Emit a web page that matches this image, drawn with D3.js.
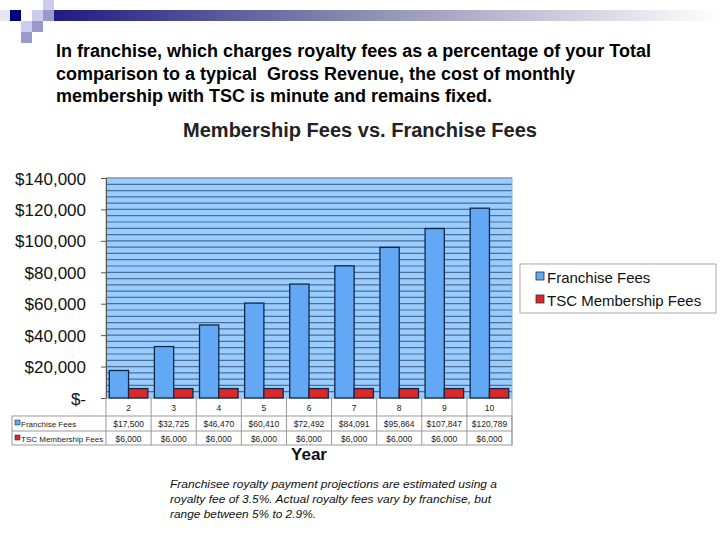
<!DOCTYPE html>
<html><head><meta charset="utf-8">
<script src="https://cdn.jsdelivr.net/npm/d3@7"></script>
<style>body{margin:0;background:#fff;}svg{display:block;font-family:"Liberation Sans",Arial,sans-serif;}</style>
</head><body>
<svg id="c" width="720" height="540"></svg>
<script>
const years = ["2","3","4","5","6","7","8","9","10"];
const franchiseFees = [17500,32725,46470,60410,72492,84091,95864,107847,120789];
const tscFees = [6000,6000,6000,6000,6000,6000,6000,6000,6000];
const franchiseLabels = ["$17,500","$32,725","$46,470","$60,410","$72,492","$84,091","$95,864","$107,847","$120,789"];
const tscLabels = ["$6,000","$6,000","$6,000","$6,000","$6,000","$6,000","$6,000","$6,000","$6,000"];
const yTicks = [0,20000,40000,60000,80000,100000,120000,140000];
const seriesNames = ["Franchise Fees","TSC Membership Fees"];

const svg = d3.select("#c");
const colors = ["#62a8f4","#dc2828"];

// header decoration
const defs = svg.append("defs");
const g1 = defs.append("linearGradient").attr("id","hg");
g1.append("stop").attr("offset","0").attr("stop-color","#1c1c84");
g1.append("stop").attr("offset","0.45").attr("stop-color","#8a8ab0");
g1.append("stop").attr("offset","1").attr("stop-color","#ffffff");
svg.append("rect").attr("x",54).attr("y",10).attr("width",666).attr("height",11).attr("fill","url(#hg)");
const sq = [[0,10,"#e6e6f2"],[10,10,"#000080"],[32,10,"#ccccee"],[43,0,"#ccccee"],[43,10,"#9999cc"],[21,21,"#ccccee"],[32,21,"#9999cc"],[21,32,"#9999cc"]];
svg.selectAll("rect.sq").data(sq).enter().append("rect").attr("class","sq")
  .attr("x",d=>d[0]).attr("y",d=>d[1]).attr("width",11).attr("height",11).attr("fill",d=>d[2]);

// intro text
const intro = ["In franchise, which charges royalty fees as a percentage of your Total",
  "comparison to a typical  Gross Revenue, the cost of monthly",
  "membership with TSC is minute and remains fixed."];
const introLen = [595,519,436];
svg.selectAll("text.intro").data(intro).enter().append("text").attr("class","intro")
  .attr("x",56).attr("y",(d,i)=>57+i*22.5).attr("font-size",17.5).attr("font-weight","bold")
  .attr("textLength",(d,i)=>introLen[i]).attr("lengthAdjust","spacingAndGlyphs")
  .attr("fill","#000").style("white-space","pre").text(d=>d);

// chart title
svg.append("text").attr("x",183).attr("y",137)
  .attr("font-size",19.5).attr("font-weight","bold").attr("fill","#222")
  .attr("textLength",354).attr("lengthAdjust","spacingAndGlyphs").text("Membership Fees vs. Franchise Fees");

const L=106,R=512,T=178,B=398;
const x = d3.scaleBand().domain(years).range([L,R]).paddingInner(0).paddingOuter(0);
const xs = d3.scaleBand().domain(seriesNames).range([0,x.bandwidth()]).paddingOuter(0.17).paddingInner(0);
const y = d3.scaleLinear().domain([0,140000]).range([B,T]);

svg.append("rect").attr("x",L).attr("y",T).attr("width",R-L).attr("height",B-T).attr("fill","#99ccff");
const minor = d3.range(4000,140001,4000);
svg.selectAll("line.grid").data(minor).enter().append("line")
  .attr("x1",L).attr("x2",R).attr("y1",d=>y(d)).attr("y2",d=>y(d))
  .attr("stroke","#4d6f95").attr("stroke-width",1.2);
svg.append("rect").attr("x",L).attr("y",T).attr("width",R-L).attr("height",B-T).attr("fill","none").attr("stroke","#9ab").attr("stroke-width",1);

// bars
const data = years.map((yr,i)=>({yr, vals:[franchiseFees[i],tscFees[i]]}));
const grp = svg.selectAll("g.cat").data(data).enter().append("g").attr("transform",d=>`translate(${x(d.yr)},0)`);
grp.selectAll("rect").data(d=>d.vals.map((v,j)=>({v,s:seriesNames[j],j}))).enter().append("rect")
  .attr("x",d=>xs(d.s)).attr("width",xs.bandwidth()).attr("y",d=>y(d.v)).attr("height",d=>B-y(d.v))
  .attr("fill",d=>colors[d.j]).attr("stroke","#102848").attr("stroke-width",1.3);

// y axis
const yAxis = d3.axisLeft(y).tickValues(yTicks).tickSize(5).tickFormat(d=>d===0?"$-":"$"+d3.format(",")(d));
const ya = svg.append("g").attr("transform",`translate(${L},0)`).call(yAxis);
ya.select(".domain").attr("stroke","#555");
ya.selectAll(".tick line").attr("stroke","#555");
ya.selectAll("text").attr("font-size",17).attr("fill","#111").attr("x",-20).attr("dy","0.36em")
  .style("font-family","'Liberation Sans',Arial,sans-serif");

// data table
const tg = svg.append("g");
tg.append("rect").attr("x",12).attr("y",416).attr("width",R-12).attr("height",29).attr("fill","none").attr("stroke","#999");
tg.append("line").attr("x1",12).attr("x2",R).attr("y1",431).attr("y2",431).attr("stroke","#999");
tg.append("line").attr("x1",R).attr("x2",R).attr("y1",B).attr("y2",445).attr("stroke","#999");
tg.selectAll("line.v").data(years).enter().append("line")
  .attr("x1",d=>x(d)).attr("x2",d=>x(d)).attr("y1",B).attr("y2",445).attr("stroke","#999");
tg.selectAll("text.yr").data(years).enter().append("text")
  .attr("x",d=>x(d)+x.bandwidth()/2).attr("y",411).attr("text-anchor","middle").attr("font-size",8.5).attr("fill","#222").text(d=>d);
tg.selectAll("text.f").data(franchiseLabels).enter().append("text")
  .attr("x",(d,i)=>x(years[i])+x.bandwidth()/2).attr("y",427).attr("text-anchor","middle").attr("font-size",8.5).attr("fill","#222").text(d=>d);
tg.selectAll("text.t").data(tscLabels).enter().append("text")
  .attr("x",(d,i)=>x(years[i])+x.bandwidth()/2).attr("y",441.5).attr("text-anchor","middle").attr("font-size",8.5).attr("fill","#222").text(d=>d);
seriesNames.forEach((s,i)=>{
  tg.append("rect").attr("x",15).attr("y",420+i*15).attr("width",5).attr("height",5).attr("fill",colors[i]).attr("stroke","#234").attr("stroke-width",0.6);
  tg.append("text").attr("x",21).attr("y",426.5+i*15).attr("font-size",8).attr("fill","#222").text(s);
});

svg.append("text").attr("x",309).attr("y",460).attr("text-anchor","middle").attr("font-size",17).attr("font-weight","bold").attr("fill","#111").text("Year");

// legend
const lg = svg.append("g");
lg.append("rect").attr("x",520).attr("y",264).attr("width",196).attr("height",49).attr("fill","#fff").attr("stroke","#aaa");
seriesNames.forEach((s,i)=>{
  lg.append("rect").attr("x",536).attr("y",272+i*23).attr("width",8).attr("height",8).attr("fill",colors[i]).attr("stroke","#234").attr("stroke-width",0.8);
  lg.append("text").attr("x",547).attr("y",283+i*23).attr("font-size",15).attr("fill","#111").text(s);
});

// footnote
const foot = ["Franchisee royalty payment projections are estimated using a",
  "royalty fee of 3.5%. Actual royalty fees vary by franchise, but",
  "range between 5% to 2.9%."];
const footLen = [327,321,146];
svg.selectAll("text.foot").data(foot).enter().append("text")
  .attr("x",170).attr("y",(d,i)=>488+i*15).attr("font-size",11.5).attr("font-style","italic").attr("fill","#111")
  .attr("textLength",(d,i)=>footLen[i]).attr("lengthAdjust","spacingAndGlyphs").text(d=>d);
</script>
</body></html>
